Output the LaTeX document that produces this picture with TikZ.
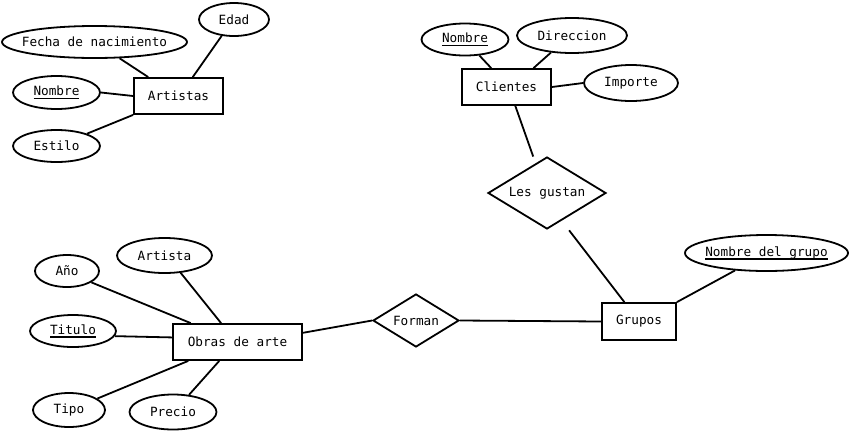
\documentclass[tikz,border=0pt]{standalone}
\usepackage{fontspec}
\setmonofont{DejaVu Sans Mono}
\usetikzlibrary{shapes.geometric}
\newcommand{\subrayado}[1]{\setbox0\hbox{#1}\rlap{\rule[-3.5pt]{\wd0}{1.4pt}}\box0}

\begin{document}
\begin{tikzpicture}[x=1pt,y=-1pt,line width=1.8pt,
    font=\ttfamily\fontsize{12.7}{15}\selectfont,
    entidad/.style={draw,rectangle,inner sep=0pt},
    atributo/.style={draw,ellipse,inner xsep=-20pt,inner ysep=0pt},
    relacion/.style={draw,diamond,aspect=1.6,inner sep=0pt}]
        \useasboundingbox (0,0) rectangle (851,432);

        % entidades
        \node[entidad,minimum width=89pt,minimum height=36pt] (artistas) at (178.5,96) {Artistas};
        \node[entidad,minimum width=89pt,minimum height=36pt] (clientes) at (506.5,87) {Clientes};
        \node[entidad,minimum width=74pt,minimum height=37pt] (grupos) at (639,321.5) {Grupos};
        \node[entidad,minimum width=129pt,minimum height=36pt] (obras) at (237.5,342) {Obras de arte};

        % relaciones
        \node[relacion,minimum width=118pt,minimum height=72pt] (lesgustan) at (547,193) {Les gustan};
        \node[relacion,minimum width=86pt,minimum height=53pt] (forman) at (416,320.5) {Forman};

        % atributos de artistas
        \node[atributo,minimum width=70pt,minimum height=33pt] (edad) at (234,19.5) {Edad};
        \node[atributo,minimum width=185pt,minimum height=32pt] (fecha) at (94.5,42) {Fecha de nacimiento};
        \node[atributo,minimum width=87pt,minimum height=33pt] (nombrea) at (56.5,92.5) {\subrayado{Nombre}};
        \node[atributo,minimum width=87pt,minimum height=32pt] (estilo) at (56.5,146) {Estilo};

        % atributos de clientes
        \node[atributo,minimum width=87pt,minimum height=32pt] (nombrec) at (465,39.5) {\subrayado{Nombre}};
        \node[atributo,minimum width=110pt,minimum height=35pt] (direccion) at (572,35.5) {Direccion};
        \node[atributo,minimum width=94pt,minimum height=36pt] (importe) at (631,83) {Importe};

        % atributos de grupos
        \node[atributo,minimum width=163pt,minimum height=36pt] (ndg) at (766.5,253) {\subrayado{Nombre del grupo}};

        % atributos de obras
        \node[atributo,minimum width=95pt,minimum height=35pt] (artista) at (164.5,255.5) {Artista};
        \node[atributo,minimum width=64pt,minimum height=32pt] (anio) at (67,271) {Año};
        \node[atributo,minimum width=86pt,minimum height=32pt] (titulo) at (73,331) {\subrayado{Titulo}};
        \node[atributo,minimum width=72pt,minimum height=34pt] (tipo) at (69,410) {Tipo};
        \node[atributo,minimum width=87pt,minimum height=35pt] (precio) at (173,412) {Precio};

        % lineas
        \draw (fecha.-33) -- (artistas.148);
        \draw (edad.-127) -- (artistas.53);
        \draw (nombrea.east) -- (artistas.west);
        \draw (estilo.22) -- (artistas.south west);

        \draw (nombrec.-48) -- (clientes.129);
        \draw (direccion.-141) -- (clientes.35);
        \draw (importe.west) -- (clientes.east);
        \draw[shorten >=7pt] (clientes.-65) -- (lesgustan.111);
        \draw[shorten <=12pt] (lesgustan.-62) -- (grupos.127);

        \draw (ndg.-151) -- (grupos.north east);
        \draw (forman.east) -- (grupos.west);
        \draw (obras.8) -- (forman.west);

        \draw (anio.-25) -- (obras.158);
        \draw (artista.-47) -- (obras.131);
        \draw (titulo.-7) -- (obras.176);
        \draw (tipo.22) -- (obras.201);
        \draw (precio.47) -- (obras.-134);
\end{tikzpicture}
\end{document}
